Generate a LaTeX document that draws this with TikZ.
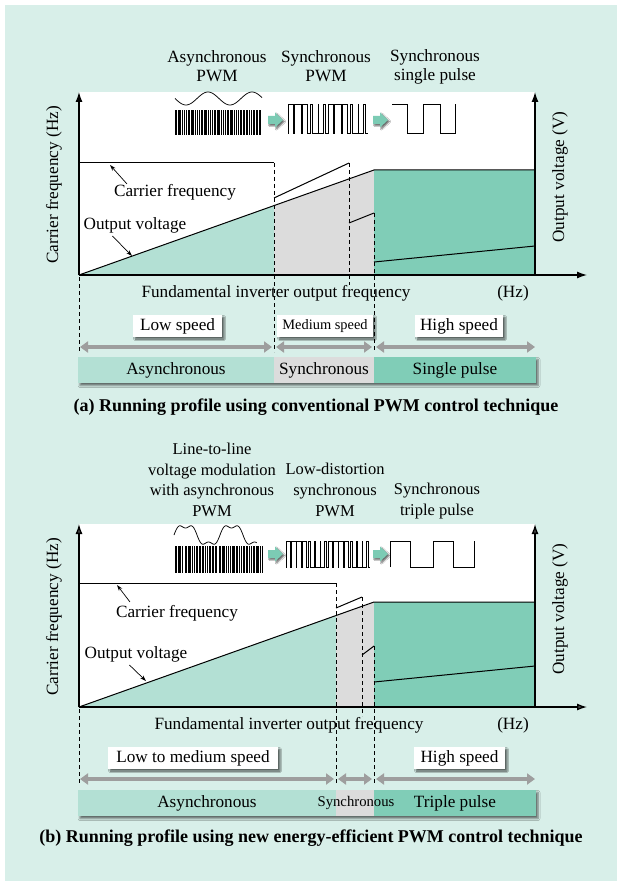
\documentclass[tikz,border=0pt]{standalone}
\usepackage{fontspec}
\setmainfont{Liberation Serif}
\usetikzlibrary{arrows.meta,shadows.blur}
\definecolor{bgc}{HTML}{D8EFE9}
\definecolor{lg}{HTML}{B3E0D4}
\definecolor{dg}{HTML}{80CDB7}
\definecolor{gr}{HTML}{DCDCDC}
\definecolor{tealarr}{HTML}{7CCBB4}
\definecolor{darr}{HTML}{9E9E9E}
\tikzset{
  txt/.style={font=\fontsize{17.2}{19}\selectfont, inner sep=0pt, align=center},
  txtb/.style={font=\fontsize{16.5}{20.7}\selectfont, inner sep=0pt, align=center},
  capt/.style={font=\bfseries\fontsize{18}{20}\selectfont, inner sep=0pt},
  ax/.style={line width=1.3pt, -{Latex[length=10pt,width=7pt]}},
  ln/.style={line width=1pt},
  dsh/.style={line width=0.9pt, dash pattern=on 4pt off 3pt},
  wav/.style={line width=0.75pt},
  lblarr/.style={line width=0.7pt, -{Stealth[length=6pt,width=4pt]}},
  spdbox/.style={fill=white, inner sep=0pt, minimum height=22pt, font=\fontsize{17.2}{19}\selectfont,
    blur shadow={shadow xshift=2pt, shadow yshift=-2pt, shadow blur radius=1.5pt, shadow opacity=60}},
  dblarr/.style={draw=darr, line width=3.5pt, {Triangle[length=8pt,width=11pt]}-{Triangle[length=8pt,width=11pt]}},
  barnode/.style={inner sep=0pt, outer sep=0pt, minimum height=26pt, font=\fontsize{17.2}{19}\selectfont},
  barshadow/.style={blur shadow={shadow xshift=2pt, shadow yshift=-2.5pt, shadow blur radius=2pt, shadow opacity=55}},
  barrow/.pic={\fill[tealarr, blur shadow={shadow xshift=1.5pt, shadow yshift=-1.5pt, shadow blur radius=1.2pt, shadow opacity=60}]
     (0,-4)--(7,-4)--(7,-7.5)--(15,0)--(7,7.5)--(7,4)--(0,4)--cycle;},
}
\begin{document}
\begin{tikzpicture}[x=1pt,y=-1pt]
\useasboundingbox (0,0) rectangle (621,885);
\fill[white] (0,0) rectangle (621,885);
\fill[bgc] (5,5) rectangle (617,881);

% ================= panel (a) =================
\fill[white] (79,92) rectangle (535,275);
\fill[lg] (79,275) -- (274,205.6) -- (274,275) -- cycle;
\fill[gr] (274,275) -- (274,205.6) -- (374,170) -- (374,275) -- cycle;
\fill[dg] (374,170) rectangle (535,275);

% waveforms
\draw[wav] plot[variable=\t,domain=0:87,samples=90,smooth] ({175+\t},{98.5+6.5*sin(8.1818*\t)});
\fill (175,110) rectangle (262,135);
\foreach \i [evaluate=\i as \w using {0.18+0.17*abs(sin(\i*137))},
             evaluate=\i as \p using {177.5+\i*2.6+0.7*sin(\i*71)}] in {0,...,32}
  \draw[white,line width=\w pt] (\p,110) -- (\p,135);
\pic at (268,120) {barrow};
\draw[wav] (288,133) \foreach \k [evaluate=\k as \a using {288+6.667*(\k+0.5)-3.333*(0.5+0.48*sin(60*(\k+0.5)))},
  evaluate=\k as \b using {288+6.667*(\k+0.5)+3.333*(0.5+0.48*sin(60*(\k+0.5)))}] in {0,...,11}
  { -- (\a,133) -- (\a,104) -- (\b,104) -- (\b,133) } -- (368,133);
\pic at (373,120) {barrow};
\draw[wav] (392,104) -- (407,104) -- (407,133) -- (423,133) -- (423,104) -- (440,104) -- (440,133) -- (455,133) -- (455,104);

% curves
\draw[ln] (79,163) -- (274,163);
\draw[ln] (274,198) -- (349,163);
\draw[ln] (349,223) -- (374,213);
\draw[ln] (374,262) -- (535,246);
\draw[ln] (79,275) -- (374,170) -- (535,170);
\draw[dsh] (274,163) -- (274,352);
\draw[dsh] (349,163) -- (349,285);
\draw[dsh] (374,213) -- (374,352);
\draw[dsh] (79,277) -- (79,352);

% axes
\coordinate (o1) at (79,275);
\coordinate (yt1) at (79,92);
\coordinate (r1) at (535,275);
\coordinate (rt1) at (535,92);
\coordinate (xe1) at (587,275);
\draw[ax] (o1) -- (yt1);
\draw[ax] (r1) -- (rt1);
\draw[ax] (o1) -- (xe1);

% labels
\node[txt] (t1a) at (217,66) {Asynchronous\\PWM};
\node[txt] (t1b) at (326,66) {Synchronous\\PWM};
\node[txt] (t1c) at (435,67) {Synchronous\\single pulse};
\node[txt] (cf1) at (175,192) {Carrier frequency};
\coordinate (cft1) at (110,165);
\draw[lblarr] ([xshift=13pt]cf1.north west) -- (cft1);
\node[txt] (ov1) at (135,225) {Output voltage};
\coordinate (ovt1) at (132,256);
\draw[lblarr] ([xshift=29pt,yshift=-3pt]ov1.south west) -- (ovt1);
\node[txt, rotate=90] (yl1) at (54,185) {Carrier frequency (Hz)};
\node[txt, rotate=90] (yr1) at (560,177) {Output voltage (V)};
\node[txt] (xl1) at (276,293) {Fundamental inverter output frequency};
\node[txt] (hz1) at (513,293) {(Hz)};

% speed boxes
\node[spdbox, minimum width=89pt] (ls1) at (177.5,326) {Low speed};
\node[spdbox, minimum width=96pt, font=\fontsize{14.4}{17}\selectfont] (ms1) at (325,326) {Medium speed};
\node[spdbox, minimum width=88pt] (hs1) at (459,326) {High speed};

\coordinate (d1a) at (80,347);  \coordinate (d1b) at (272,347);
\coordinate (d1c) at (276,347); \coordinate (d1d) at (372,347);
\coordinate (d1e) at (376,347); \coordinate (d1f) at (535,347);
\draw[dblarr] (d1a) -- (d1b);
\draw[dblarr] (d1c) -- (d1d);
\draw[dblarr] (d1e) -- (d1f);

% bars
\path[barshadow] (78,357) rectangle (536,383);
\node[barnode, fill=lg, minimum width=196pt] (as1) at (176,370) {Asynchronous};
\node[barnode, fill=gr, minimum width=100pt] (sy1) at (324,370) {Synchronous};
\node[barnode, fill=dg, minimum width=162pt] (sp1) at (455,370) {Single pulse};

\node[capt] (cap1) at (316,407) {(a) Running profile using conventional PWM control technique};

% ================= panel (b) =================
\fill[white] (79,524) rectangle (535,707);
\fill[lg] (79,707) -- (336,615.5) -- (336,707) -- cycle;
\fill[gr] (336,707) -- (336,615.5) -- (374,602) -- (374,707) -- cycle;
\fill[dg] (374,602) rectangle (535,707);

% waveforms
\draw[wav] plot[variable=\t,domain=0:1.8,samples=140,smooth] ({174+46*\t},{535-10*(sin(360*\t)+0.3*sin(1080*\t))});
\fill (175,546) rectangle (263,573);
\foreach \i [evaluate=\i as \w using {0.18+0.17*abs(sin(\i*151))},
             evaluate=\i as \p using {177.5+\i*2.6+0.7*sin(\i*83)}] in {0,...,32}
  \draw[white,line width=\w pt] (\p,546) -- (\p,573);
\pic at (268,554) {barrow};
\draw[wav] (286,567) \foreach \k [evaluate=\k as \a using {286+5.25*(\k+0.5)-2.625*(0.5+0.48*sin(45*(\k+0.5)))},
  evaluate=\k as \b using {286+5.25*(\k+0.5)+2.625*(0.5+0.48*sin(45*(\k+0.5)))}] in {0,...,15}
  { -- (\a,567) -- (\a,541) -- (\b,541) -- (\b,567) } -- (370,567);
\pic at (373,554) {barrow};
\draw[wav] (390,567) -- (390,541) -- (410,541) -- (410,567) -- (433,567) -- (433,541) -- (453,541) -- (453,567) -- (474,567) -- (474,541);

% curves
\draw[ln] (79,583) -- (336,583);
\draw[ln] (336,608) -- (362,597);
\draw[ln] (362,655) -- (374,646);
\draw[ln] (374,682) -- (535,666);
\draw[ln] (79,707) -- (374,602) -- (535,602);
\draw[dsh] (336,583) -- (336,785);
\draw[dsh] (362,597) -- (362,716);
\draw[dsh] (374,646) -- (374,785);
\draw[dsh] (79,709) -- (79,785);

% axes
\coordinate (o2) at (79,707);
\coordinate (yt2) at (79,524);
\coordinate (r2) at (535,707);
\coordinate (rt2) at (535,524);
\coordinate (xe2) at (587,707);
\draw[ax] (o2) -- (yt2);
\draw[ax] (r2) -- (rt2);
\draw[ax] (o2) -- (xe2);

% labels
\node[txtb] (t2a) at (212,480) {Line-to-line\\voltage modulation\\with asynchronous\\PWM};
\node[txtb] (t2b) at (335,490) {Low-distortion\\synchronous\\PWM};
\node[txtb] (t2c) at (437,501) {Synchronous\\triple pulse};
\node[txt] (cf2) at (177,613) {Carrier frequency};
\coordinate (cft2) at (117,585);
\draw[lblarr] ([xshift=14pt,yshift=3pt]cf2.north west) -- (cft2);
\node[txt] (ov2) at (136,654) {Output voltage};
\coordinate (ovt2) at (146,681);
\draw[lblarr] ([xshift=45pt,yshift=-3pt]ov2.south west) -- (ovt2);
\node[txt, rotate=90] (yl2) at (54,617) {Carrier frequency (Hz)};
\node[txt, rotate=90] (yr2) at (560,609) {Output voltage (V)};
\node[txt] (xl2) at (289,725) {Fundamental inverter output frequency};
\node[txt] (hz2) at (513,725) {(Hz)};

% speed boxes
\node[spdbox, minimum width=170pt] (ls2) at (193,758) {Low to medium speed};
\node[spdbox, minimum width=91pt] (hs2) at (459.5,758) {High speed};

\coordinate (d2a) at (80,779);  \coordinate (d2b) at (334,779);
\coordinate (d2c) at (338,779); \coordinate (d2d) at (372,779);
\coordinate (d2e) at (376,779); \coordinate (d2f) at (535,779);
\draw[dblarr] (d2a) -- (d2b);
\draw[dblarr] (d2c) -- (d2d);
\draw[dblarr] (d2e) -- (d2f);

% bars
\path[barshadow] (78,790) rectangle (536,816);
\node[barnode, fill=lg, minimum width=258pt] (as2) at (207,803) {Asynchronous};
\node[barnode, fill=gr, minimum width=38pt] (sy2bar) at (355,803) {};
\node[barnode, fill=dg, minimum width=162pt] (tp2) at (455,803) {\hspace*{0pt}};
\node[txt] (tp2t) at (455,803) {Triple pulse};
\node[txt, font=\fontsize{14.7}{17}\selectfont] (sy2) at (356,803) {Synchronous};

\node[capt] (cap2) at (311,838) {(b) Running profile using new energy-efficient PWM control technique};
\end{tikzpicture}
\end{document}
